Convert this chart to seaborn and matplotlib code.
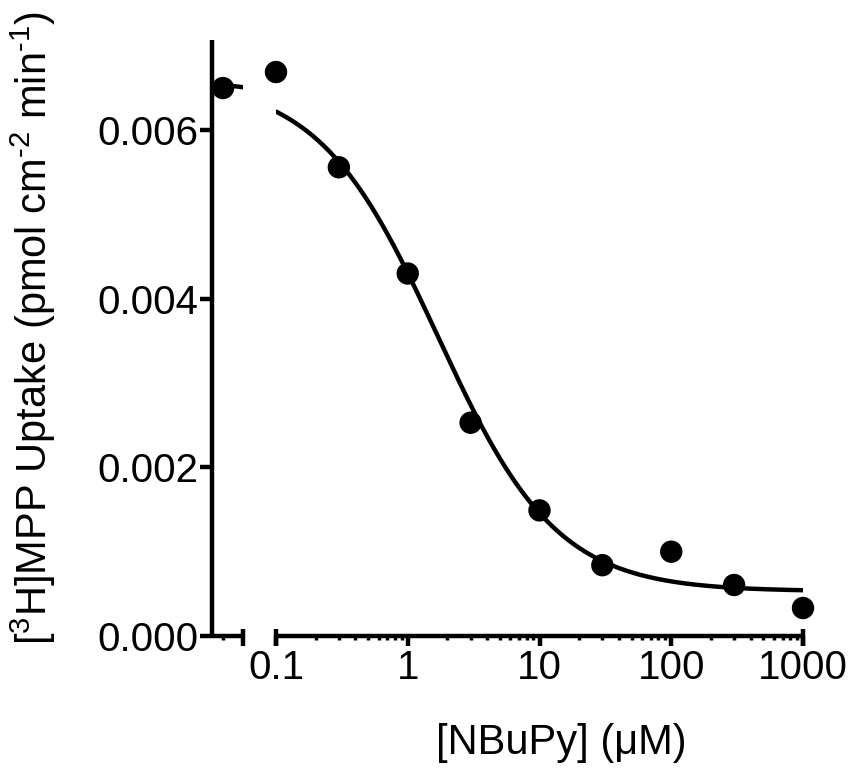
import numpy as np
import pandas as pd
import matplotlib
matplotlib.use("Agg")
import matplotlib.pyplot as plt
import seaborn as sns

# -------- DATA --------
conc = [0.1, 0.3, 1, 3, 10, 30, 100, 300, 1000]          # [NBuPy] (uM)
uptake = [0.00669, 0.00556, 0.00430, 0.00253, 0.00149,
          0.00084, 0.00100, 0.000605, 0.000332]          # pmol cm-2 min-1
control_x = [0.015]                                       # plotted left of the axis break
control_y = [0.0065]

# fitted 4-parameter logistic
fit_top = 0.0066
fit_bottom = 0.00053
fit_ic50 = 1.68
fit_hill = 0.96

xticks = [0.1, 1, 10, 100, 1000]
xtick_labels = ["0.1", "1", "10", "100", "1000"]
yticks = [0.000, 0.002, 0.004, 0.006]
ytick_labels = ["0.000", "0.002", "0.004", "0.006"]


def logistic(x):
    x = np.asarray(x, dtype=float)
    return fit_bottom + (fit_top - fit_bottom) / (1 + (x / fit_ic50) ** fit_hill)


# -------- SETTINGS --------
sns.set_style("ticks")
plt.rcParams["font.family"] = ["Liberation Sans", "DejaVu Sans"]
plt.rcParams["mathtext.fontset"] = "custom"
plt.rcParams["mathtext.rm"] = "Liberation Sans"
plt.rcParams["mathtext.default"] = "regular"
for key in ["axes.edgecolor", "axes.labelcolor", "text.color",
            "xtick.color", "ytick.color"]:
    plt.rcParams[key] = "black"

LW = 3.2
fig = plt.figure(figsize=(8.54, 7.72), dpi=100)
W, H = 854, 772
y0_px, y1_px = 636, 40
axL = fig.add_axes([212 / W, 1 - y0_px / H, 31 / W, (y0_px - y1_px) / H])
axR = fig.add_axes([276 / W, 1 - y0_px / H, 527 / W, (y0_px - y1_px) / H], sharey=axL)

# -------- LEFT SEGMENT (control) --------
left_lim = (10 ** -1.907, 10 ** -1.672)
curve_left = pd.DataFrame({"x": np.geomspace(control_x[0], left_lim[1], 10)})
curve_left["y"] = logistic(curve_left["x"])
sns.lineplot(data=curve_left, x="x", y="y", ax=axL, color="black", lw=LW)
sns.scatterplot(x=control_x, y=control_y, ax=axL, color="black", s=260,
                edgecolor="none", clip_on=False, zorder=5)
axL.set_xscale("log")
axL.set_xlim(*left_lim)

# -------- RIGHT SEGMENT (dose response) --------
curve = pd.DataFrame({"x": np.geomspace(0.1, 1000, 300)})
curve["y"] = logistic(curve["x"])
sns.lineplot(data=curve, x="x", y="y", ax=axR, color="black", lw=LW)
pts = pd.DataFrame({"conc": conc, "uptake": uptake})
sns.scatterplot(data=pts, x="conc", y="uptake", ax=axR, color="black", s=260,
                edgecolor="none", clip_on=False, zorder=5)
axR.set_xscale("log")
axR.set_xlim(0.1, 1000)
axR.set_xticks(xticks)
axR.set_xticklabels(xtick_labels)
axR.xaxis.set_minor_locator(matplotlib.ticker.LogLocator(base=10, subs=np.arange(2, 10)))
axR.xaxis.set_minor_formatter(matplotlib.ticker.NullFormatter())

axL.set_ylim(0, 0.00707)
axL.set_yticks(yticks)
axL.set_yticklabels(ytick_labels)
axL.set_xticks([])
axL.set_xticks(control_x, minor=True)
axL.xaxis.set_minor_formatter(matplotlib.ticker.NullFormatter())

for ax in (axL, axR):
    sns.despine(ax=ax, top=True, right=True)
    for sp in ax.spines.values():
        sp.set_linewidth(LW)
        sp.set_capstyle("butt")
    ax.tick_params(which="major", length=7.5, width=LW, color="black",
                   labelsize=29, pad=2, labelcolor="black")
    ax.tick_params(which="minor", length=3, width=2.5, color="black")
    ax.set_xlabel("")
    ax.set_ylabel("")
    ax.patch.set_alpha(0)

axR.spines["left"].set_visible(False)
axR.tick_params(axis="y", which="both", left=False, labelleft=False)
axL.tick_params(axis="y", length=9, pad=1)

# break caps on the x axis segments
axL.vlines([left_lim[1]], -0.016, 0.012, transform=axL.get_xaxis_transform(),
           color="black", lw=LW, clip_on=False)
axR.vlines([0.1, 1000], -0.016, 0.012, transform=axR.get_xaxis_transform(),
           color="black", lw=LW, clip_on=False)

axL.set_ylabel("[$^3$H]MPP Uptake (pmol cm$^{\u20102}$ min$^{\u20101}$)",
               fontsize=30, color="black")
axL.yaxis.set_label_coords(58 / W, 1 - 328 / H, transform=fig.transFigure)
axR.set_xlabel("[NBuPy] (μM)", fontsize=30, color="black")
axR.xaxis.set_label_coords(561 / W, 1 - 723 / H, transform=fig.transFigure)

fig.savefig("out.png", dpi=100)
